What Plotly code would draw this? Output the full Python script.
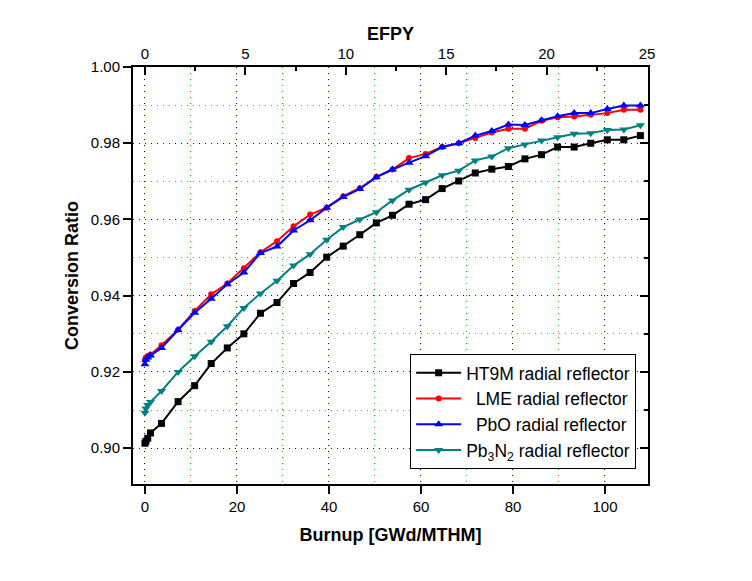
import plotly.graph_objects as go

burnup = [0, 0.2, 0.6, 1.2, 3.6, 7.2, 10.8, 14.4, 17.9, 21.5, 25.1, 28.7, 32.3, 35.9,
          39.5, 43.1, 46.7, 50.3, 53.8, 57.4, 61.0, 64.6, 68.2, 71.8, 75.4, 79.0,
          82.6, 86.2, 89.7, 93.3, 96.9, 100.5, 104.1, 107.7]

ht9m = [0.9013, 0.9018, 0.9026, 0.9040, 0.9065, 0.9122, 0.9164, 0.9222, 0.9263, 0.9300,
        0.9354, 0.9382, 0.9432, 0.9461, 0.9501, 0.9530, 0.9560, 0.9591, 0.9611, 0.9640,
        0.9652, 0.9681, 0.9701, 0.9722, 0.9732, 0.9739, 0.9759, 0.9770, 0.9790, 0.9790,
        0.9800, 0.9809, 0.9809, 0.9820]

lme = [0.9232, 0.9238, 0.9242, 0.9246, 0.9270, 0.9311, 0.9360, 0.9404, 0.9432, 0.9472,
       0.9514, 0.9543, 0.9582, 0.9613, 0.9631, 0.9661, 0.9682, 0.9712, 0.9731, 0.9761,
       0.9772, 0.9790, 0.9800, 0.9814, 0.9828, 0.9838, 0.9838, 0.9859, 0.9868, 0.9870,
       0.9875, 0.9879, 0.9888, 0.9888]

pbo = [0.9220, 0.9232, 0.9238, 0.9243, 0.9263, 0.9310, 0.9355, 0.9392, 0.9430, 0.9461,
       0.9512, 0.9529, 0.9571, 0.9598, 0.9631, 0.9659, 0.9680, 0.9711, 0.9731, 0.9749,
       0.9766, 0.9790, 0.9800, 0.9820, 0.9832, 0.9849, 0.9848, 0.9860, 0.9871, 0.9879,
       0.9879, 0.9890, 0.9899, 0.9899]

pb3n2 = [0.9093, 0.9104, 0.9113, 0.9121, 0.9150, 0.9200, 0.9241, 0.9279, 0.9320, 0.9368,
         0.9406, 0.9439, 0.9479, 0.9509, 0.9547, 0.9580, 0.9600, 0.9619, 0.9650, 0.9678,
         0.9697, 0.9716, 0.9728, 0.9755, 0.9765, 0.9787, 0.9797, 0.9807, 0.9816, 0.9825,
         0.9826, 0.9835, 0.9836, 0.9847]

names = ["HT9M radial reflector",
         "\u00a0\u00a0LME radial reflector",
         "\u00a0\u00a0PbO radial reflector",
         "Pb<sub>3</sub>N<sub>2</sub> radial reflector"]
series = [ht9m, lme, pbo, pb3n2]
colors = ["#000000", "#FF0000", "#0000FF", "#008080"]
symbols = ["square", "circle", "triangle-up", "triangle-down"]
msizes = [7, 6, 8, 8]

efpy_ticks = [0, 5, 10, 15, 20, 25]

FONT = "Liberation Sans, Arial, sans-serif"

fig = go.Figure()
for s, n, c, sym, ms in zip(series, names, colors, symbols, msizes):
    fig.add_trace(go.Scatter(
        x=burnup, y=s, name=n, mode="lines+markers",
        line=dict(color=c, width=2),
        marker=dict(symbol=sym, size=ms, color=c, line=dict(width=0)),
    ))

# invisible traces to anchor the top and right axes
fig.add_trace(go.Scatter(x=[0], y=[0.95], xaxis="x2", yaxis="y", showlegend=False,
                         mode="markers", marker=dict(opacity=0), hoverinfo="skip"))
fig.add_trace(go.Scatter(x=[0], y=[0.95], xaxis="x", yaxis="y2", showlegend=False,
                         mode="markers", marker=dict(opacity=0), hoverinfo="skip"))

grid_major = dict(showgrid=True, gridcolor="#0000FF", gridwidth=1, griddash="1px,5px")
grid_minor_col = "#00DD00"

# page body has an 8px default margin; margins compensate for it
fig.update_layout(
    width=752, height=581,
    margin=dict(l=125, r=112, t=59, b=105),
    paper_bgcolor="white", plot_bgcolor="white",
    font=dict(family=FONT, size=15, color="black"),
    showlegend=True,
    legend=dict(
        x=0.977, y=0.036, xanchor="right", yanchor="bottom",
        bordercolor="black", borderwidth=1, bgcolor="white",
        font=dict(family=FONT, size=17.5, color="black"),
        tracegroupgap=0, itemwidth=45,
    ),
    xaxis=dict(
        range=[-2.6, 109.35], dtick=20, tick0=0,
        ticks="outside", ticklen=8, tickwidth=2, tickcolor="black",
        showline=True, linecolor="black", linewidth=2,
        zeroline=False,
        **grid_major,
        minor=dict(dtick=10, tick0=0, showgrid=True, gridcolor=grid_minor_col,
                   gridwidth=1, griddash="1px,5px", ticks=""),
        title=dict(text="<b>Burnup [GWd/MTHM]</b>", font=dict(size=18), standoff=14),
        tickfont=dict(size=15),
    ),
    xaxis2=dict(
        overlaying="x", side="top", range=[-0.598, 25.05],
        tickvals=efpy_ticks, ticktext=[str(t) for t in efpy_ticks],
        ticks="inside", ticklen=8, tickwidth=2, tickcolor="black",
        minor=dict(dtick=2.5, tick0=0, ticks="inside", ticklen=4, tickwidth=2,
                   tickcolor="black", showgrid=False),
        showline=True, linecolor="black", linewidth=2,
        showgrid=False, zeroline=False,
        title=dict(text="<b>EFPY</b>", font=dict(size=18), standoff=0),
        tickfont=dict(size=15),
    ),
    yaxis=dict(
        range=[0.8906, 1.0], dtick=0.02, tick0=0.9, tickformat=".2f",
        ticks="outside", ticklen=8, tickwidth=2, tickcolor="black",
        showline=True, linecolor="black", linewidth=2,
        zeroline=False,
        **grid_major,
        minor=dict(dtick=0.01, tick0=0.9, showgrid=True, gridcolor=grid_minor_col,
                   gridwidth=1, griddash="1px,5px", ticks=""),
        title=dict(text="<b>Conversion Ratio</b>", font=dict(size=18), standoff=7),
        tickfont=dict(size=15),
    ),
    yaxis2=dict(
        overlaying="y", side="right", range=[0.8906, 1.0],
        dtick=0.02, tick0=0.9, showticklabels=False,
        ticks="inside", ticklen=8, tickwidth=2, tickcolor="black",
        minor=dict(dtick=0.01, tick0=0.9, ticks="inside", ticklen=4, tickwidth=2,
                   tickcolor="black", showgrid=False),
        showline=True, linecolor="black", linewidth=2,
        showgrid=False, zeroline=False,
    ),
)

fig.write_html("out.html")
